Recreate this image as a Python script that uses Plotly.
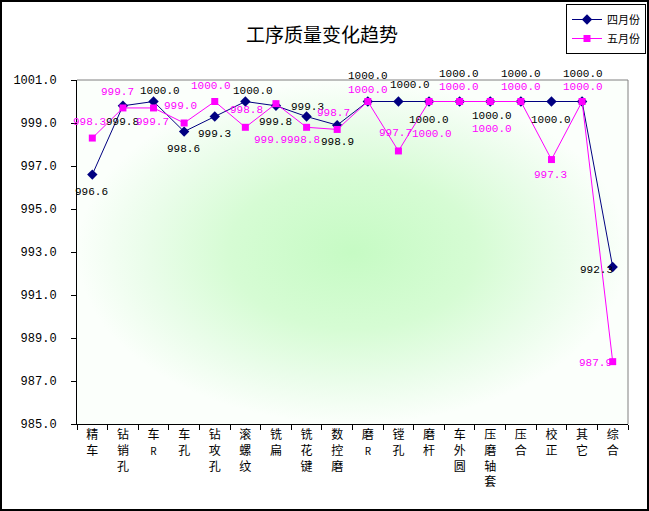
import plotly.graph_objects as go

categories = ['精车', '钻销孔', '车R', '车孔', '钻攻孔', '滚螺纹', '铣扁', '铣花键', '数控磨',
              '磨R', '镗孔', '磨杆', '车外圆', '压磨轴套', '压合', '校正', '其它', '综合']
april = [996.6, 999.8, 1000.0, 998.6, 999.3, 1000.0, 999.8, 999.3, 998.9,
         1000.0, 1000.0, 1000.0, 1000.0, 1000.0, 1000.0, 1000.0, 1000.0, 992.3]
may = [998.3, 999.7, 999.7, 999.0, 1000.0, 998.8, 999.9, 998.8, 998.7,
       1000.0, 997.7, 1000.0, 1000.0, 1000.0, 1000.0, 997.3, 1000.0, 987.9]
y_ticks = [985.0, 987.0, 989.0, 991.0, 993.0, 995.0, 997.0, 999.0, 1001.0]

# label offsets (px) as placed in the original excel chart
april_off = [(-1, -17), (0, -16), (6, 11), (-1, -17), (0, -17), (8, 11), (0, -16), (1, 10), (0, -17),
             (0, 26), (12, 17), (0, -18), (-1, 28), (2, -14), (0, 28), (0, -18), (1, 28), (-16, -3)]
may_off = [(-3, 16), (-5, 16), (-1, -14), (-4, 17), (-4, 16), (1, 17), (-5, -36), (-3, -13), (-4, 16),
           (0, 12), (-3, 18), (3, -32), (-1, 15), (2, -27), (0, 15), (-1, -15), (1, 15), (-17, -1)]

W, H = 649, 511
ML, MR, MT, MB = 77, 21, 80, 87


def label_text(name):
    out = []
    for ch in name:
        if ch == 'R':
            out.append('<span style="font-size:10px">R</span>')
        else:
            out.append(ch)
    return '<br>'.join(out)


xs = list(range(len(categories)))
x_lo, x_hi = -0.5, len(categories) - 0.5
y_lo, y_hi = y_ticks[0], y_ticks[-1]

fig = go.Figure()

# plot area background gradient
fig.add_trace(go.Scatter(
    x=[x_lo, x_hi, x_hi, x_lo, x_lo],
    y=[y_lo, y_lo, y_hi, y_hi, y_lo],
    mode='none', fill='toself',
    fillgradient=dict(type='radial',
                      colorscale=[[0, '#c6fbc4'], [0.45, '#d6fcd4'], [0.75, '#eafdea'], [1, '#fbfffb']]),
    showlegend=False, hoverinfo='skip',
))

fig.add_trace(go.Scatter(
    x=xs, y=april, name='四月份', mode='lines+markers',
    line=dict(color='#000080', width=1),
    marker=dict(symbol='diamond', size=8, color='#000080'),
))
fig.add_trace(go.Scatter(
    x=xs, y=may, name='五月份', mode='lines+markers',
    line=dict(color='#ff00ff', width=1),
    marker=dict(symbol='square', size=7, color='#ff00ff'),
))

annos = []
for vals, offs, col in [(april, april_off, 'black'), (may, may_off, '#ff00ff')]:
    for i, v in enumerate(vals):
        annos.append(dict(
            x=i, y=v, text=f'{v:.1f}', showarrow=False,
            xshift=offs[i][0], yshift=offs[i][1],
            font=dict(family='Liberation Mono, DejaVu Sans Mono', size=11, color=col),
        ))

pw, ph = W - ML - MR, H - MT - MB

fig.update_layout(
    width=W, height=H,
    margin=dict(l=ML, r=MR, t=MT, b=MB, autoexpand=False),
    paper_bgcolor='white', plot_bgcolor='white',
    title=dict(text='工序质量变化趋势', x=322 / W, xanchor='center', y=1 - 35 / H, yanchor='middle',
               font=dict(family='Noto Sans CJK SC', size=19, color='black')),
    font=dict(family='Noto Sans CJK SC', size=12, color='black'),
    showlegend=True,
    legend=dict(xref='container', yref='container', x=566 / W, y=1 - 4 / H,
                xanchor='left', yanchor='top',
                bgcolor='white', bordercolor='black', borderwidth=1,
                font=dict(family='Noto Sans CJK SC', size=11), tracegroupgap=0,
                itemwidth=30),
    annotations=annos,
    shapes=[dict(type='rect', xref='paper', yref='paper', x0=-(ML - 1) / pw, x1=1 + (MR - 1) / pw,
                 y0=-(MB - 1) / ph, y1=1 + (MT - 1) / ph, line=dict(color='black', width=2)),
            dict(type='line', xref='paper', yref='paper', x0=0, x1=1, y0=1, y1=1,
                 line=dict(color='#808080', width=1)),
            dict(type='line', xref='paper', yref='paper', x0=1, x1=1, y0=0, y1=1,
                 line=dict(color='#808080', width=1))],
)

fig.update_xaxes(
    range=[x_lo, x_hi], tickmode='array', tickvals=xs,
    ticktext=[label_text(c) for c in categories],
    ticks='', showgrid=False, zeroline=False, automargin=False,
    showline=True, linecolor='black', linewidth=1,
    tickfont=dict(family='Noto Sans CJK SC', size=12),
    minor=dict(tickmode='array', tickvals=[i - 0.5 for i in range(len(categories) + 1)],
               ticks='outside', ticklen=5, tickcolor='black', showgrid=False),
)
fig.update_yaxes(
    range=[y_lo, y_hi], tickmode='array', tickvals=y_ticks,
    ticktext=[f'{t:.1f}' for t in y_ticks],
    ticks='outside', ticklen=5, tickcolor='black', ticklabelstandoff=12,
    showgrid=False, zeroline=False, automargin=False,
    showline=True, linecolor='black', linewidth=1,
    tickfont=dict(family='Liberation Mono, DejaVu Sans Mono', size=12),
)

# drop the default page margin so the chart sits at the window's corner
fig.write_html('out.html', config={'displayModeBar': False},
               post_script="document.body.style.margin='0';")
